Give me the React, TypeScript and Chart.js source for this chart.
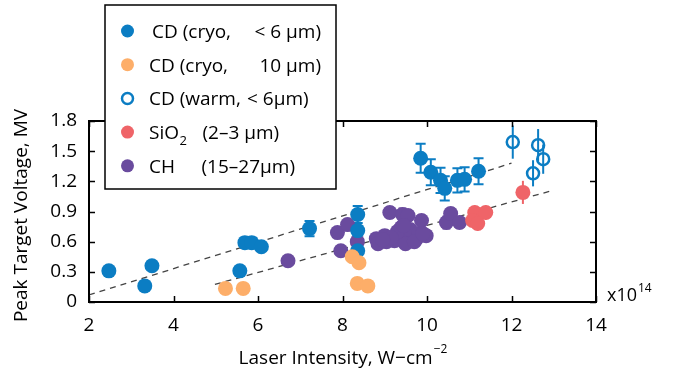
import React, { useEffect, useRef } from "react";
import { Chart, registerables } from "chart.js";
Chart.register(...registerables);

const FONT = "'Open Sans', 'Noto Sans', sans-serif";

const xTicks = [2, 4, 6, 8, 10, 12, 14];
const yTicks = [0, 0.3, 0.6, 0.9, 1.2, 1.5, 1.8];

// CD (cryo, < 6 um)
const cdCryoX = [2.47, 3.32, 3.49, 5.57, 5.69, 5.85, 6.08, 7.22, 8.36, 8.36, 8.36, 9.85, 10.09, 10.32, 10.42, 10.72, 10.89, 11.22];
const cdCryoY = [0.31, 0.16, 0.36, 0.31, 0.59, 0.59, 0.55, 0.73, 0.87, 0.71, 0.51, 1.43, 1.29, 1.21, 1.13, 1.21, 1.22, 1.30];
const cdCryoErr = [0, 0, 0, 0, 0.05, 0.05, 0.04, 0.075, 0.085, 0.04, 0.03, 0.145, 0.13, 0.125, 0.12, 0.12, 0.12, 0.13];

// CD (cryo, 10 um)
const cd10X = [5.23, 5.65, 8.23, 8.39, 8.35, 8.6];
const cd10Y = [0.135, 0.135, 0.45, 0.39, 0.185, 0.16];

// CD (warm, < 6 um)
const cdWarmX = [12.03, 12.63, 12.75, 12.51];
const cdWarmY = [1.59, 1.56, 1.42, 1.28];
const cdWarmErr = [0.165, 0.16, 0.145, 0.13];

// SiO2 (2-3 um)
const sioX = [11.13, 11.39, 11.08, 11.2, 12.27];
const sioY = [0.89, 0.89, 0.81, 0.78, 1.09];
const sioErr = [0.07, 0.07, 0.05, 0.07, 0.115];

// CH (15-27 um)
const chX = [6.71, 7.88, 8.12, 7.96, 8.35, 9.12, 9.42, 9.55, 9.87, 8.8, 9.0, 9.23, 9.39, 9.51, 9.75, 9.98, 9.49, 9.04, 8.84, 10.46, 10.56, 10.77, 9.3, 9.6, 9.8, 9.15, 8.95, 9.7, 9.9, 9.45];
const chY = [0.41, 0.69, 0.77, 0.51, 0.6, 0.89, 0.87, 0.86, 0.81, 0.63, 0.66, 0.61, 0.74, 0.65, 0.63, 0.66, 0.58, 0.6, 0.58, 0.79, 0.88, 0.79, 0.7, 0.72, 0.68, 0.64, 0.62, 0.6, 0.68, 0.76];
const chErr = [0, 0.04, 0.05, 0, 0.05, 0.05, 0.06, 0.05, 0.05, 0.04, 0.04, 0.05, 0.05, 0.04, 0.04, 0.05, 0.04, 0.04, 0.04, 0.06, 0.05, 0.05, 0.04, 0.05, 0.04, 0.04, 0.04, 0.04, 0.04, 0.05];

// Trend lines
const upperLineX = [2, 12];
const upperLineY = [0.07, 1.38];
const lowerLineX = [4.98, 12.98];
const lowerLineY = [0.175, 1.11];

const BLUE = "#0b7dc3";
const ORANGE = "#fdae69";
const RED = "#ef6468";
const PURPLE = "#6a4b9e";

const pts = (xs: number[], ys: number[]) => xs.map((x, i) => ({ x, y: ys[i] }));

// legend rows: [text, x]; negative x = right-aligned at |x|
const legendRows = [
  { color: BLUE, open: false, parts: [["CD (cryo,", 152], ["< 6 \u03bcm)", -321]] },
  { color: ORANGE, open: false, parts: [["CD (cryo,", 149], ["10 \u03bcm)", -321]] },
  { color: BLUE, open: true, parts: [["CD (warm,", 149], ["< 6\u03bcm)", 247]] },
  { color: RED, open: false, parts: [["SiO", 149], ["SUB2", 0], ["(2\u20133 \u03bcm)", 202.5]] },
  { color: PURPLE, open: false, parts: [["CH", 149], ["(15\u201327\u03bcm)", 201.5]] },
];

const framePlugin = {
  id: "frame",
  beforeDatasetsDraw(chart: any) {
    const ctx = chart.ctx;
    const xs = chart.scales.x;
    const ys = chart.scales.y;
    chart.data.datasets.forEach((ds: any) => {
      if (!ds.err) return;
      ctx.save();
      ctx.strokeStyle = ds.errColor;
      ctx.lineWidth = 2;
      ds.data.forEach((p: any, i: number) => {
        const e = ds.err[i];
        if (!e) return;
        const px = xs.getPixelForValue(p.x);
        const y1 = ys.getPixelForValue(p.y + e);
        const y2 = ys.getPixelForValue(p.y - e);
        ctx.beginPath();
        ctx.moveTo(px, y1);
        ctx.lineTo(px, y2);
        if (ds.cap) {
          ctx.moveTo(px - ds.cap, y1);
          ctx.lineTo(px + ds.cap, y1);
          ctx.moveTo(px - ds.cap, y2);
          ctx.lineTo(px + ds.cap, y2);
        }
        ctx.stroke();
      });
      ctx.restore();
    });
  },
  afterDraw(chart: any) {
    const ctx = chart.ctx;
    const xs = chart.scales.x;
    const ys = chart.scales.y;
    const { left, right, top, bottom } = chart.chartArea;
    ctx.save();
    ctx.strokeStyle = "#000";
    ctx.lineWidth = 2;
    ctx.strokeRect(left, top, right - left, bottom - top);
    ctx.lineWidth = 1.5;
    const tl = 6;
    ctx.beginPath();
    xTicks.forEach((v) => {
      const px = Math.round(xs.getPixelForValue(v)) + 0.5;
      ctx.moveTo(px, bottom);
      ctx.lineTo(px, bottom - tl);
      ctx.moveTo(px, top);
      ctx.lineTo(px, top + tl);
    });
    yTicks.forEach((v) => {
      const py = Math.round(ys.getPixelForValue(v)) + 0.5;
      ctx.moveTo(left, py);
      ctx.lineTo(left + tl, py);
      ctx.moveTo(right, py);
      ctx.lineTo(right - tl, py);
    });
    ctx.stroke();

    // x10^14
    ctx.fillStyle = "#000";
    ctx.textBaseline = "alphabetic";
    ctx.textAlign = "left";
    ctx.font = `18px ${FONT}`;
    ctx.fillText("x10", 607, 301);
    const w = ctx.measureText("x10").width;
    ctx.font = `12px ${FONT}`;
    ctx.fillText("14", 607 + w + 1, 292);

    // x title
    ctx.font = `19px ${FONT}`;
    const t1 = "Laser Intensity, W\u2212cm";
    const w1 = ctx.measureText(t1).width;
    ctx.font = `12px ${FONT}`;
    const t2 = "\u22122";
    const w2 = ctx.measureText(t2).width;
    const cx = (left + right) / 2;
    const sx = cx - (w1 + w2) / 2;
    ctx.font = `19px ${FONT}`;
    ctx.fillText(t1, sx, 364);
    ctx.font = `12px ${FONT}`;
    ctx.fillText(t2, sx + w1 + 1, 353);

    // y title
    ctx.save();
    ctx.translate(27, (top + bottom) / 2 + 4);
    ctx.rotate(-Math.PI / 2);
    ctx.font = `19px ${FONT}`;
    ctx.textAlign = "center";
    ctx.fillText("Peak Target Voltage, MV", 0, 0);
    ctx.restore();

    // legend
    const bx = 105, by = 5, bw = 231, bh = 184;
    ctx.fillStyle = "#fff";
    ctx.fillRect(bx, by, bw, bh);
    ctx.strokeStyle = "#000";
    ctx.lineWidth = 1.5;
    ctx.strokeRect(bx, by, bw, bh);
    legendRows.forEach((row, i) => {
      const cy = 31 + i * 33.7;
      ctx.beginPath();
      if (row.open) {
        ctx.arc(127.5, cy, 5.5, 0, Math.PI * 2);
        ctx.strokeStyle = row.color;
        ctx.lineWidth = 2.5;
        ctx.stroke();
      } else {
        ctx.arc(127.5, cy, 6.5, 0, Math.PI * 2);
        ctx.fillStyle = row.color;
        ctx.fill();
      }
      ctx.fillStyle = "#000";
      let cursor = 0;
      row.parts.forEach(([txt, x]: any) => {
        if (txt === "SUB2") {
          ctx.font = `13px ${FONT}`;
          ctx.textAlign = "left";
          ctx.fillText("2", cursor, cy + 13);
          return;
        }
        ctx.font = `19px ${FONT}`;
        if (x < 0) {
          ctx.textAlign = "right";
          ctx.fillText(txt, -x, cy + 7);
        } else {
          ctx.textAlign = "left";
          ctx.fillText(txt, x, cy + 7);
          cursor = x + ctx.measureText(txt).width + 0.5;
        }
      });
    });
    ctx.restore();
  },
};

export default function App() {
  const ref = useRef<HTMLCanvasElement>(null);
  useEffect(() => {
    if (!ref.current) return;
    const dot = { pointRadius: 7.5, pointHoverRadius: 7.5, borderWidth: 0, showLine: false };
    const chart = new Chart(ref.current, {
      type: "scatter",
      data: {
        datasets: [
          { ...dot, label: "CD (cryo, 10 \u03bcm)", data: pts(cd10X, cd10Y), backgroundColor: ORANGE, borderColor: ORANGE } as any,
          { ...dot, label: "CD (cryo, < 6 \u03bcm)", data: pts(cdCryoX, cdCryoY), backgroundColor: BLUE, borderColor: BLUE, err: cdCryoErr, errColor: BLUE, cap: 5 } as any,
          { ...dot, label: "SiO2 (2-3 \u03bcm)", data: pts(sioX, sioY), backgroundColor: RED, borderColor: RED, err: sioErr, errColor: RED, cap: 0 } as any,
          { ...dot, label: "CH (15-27 \u03bcm)", data: pts(chX, chY), backgroundColor: PURPLE, borderColor: PURPLE, err: chErr, errColor: PURPLE, cap: 4 } as any,
          { label: "CD (warm, < 6 \u03bcm)", data: pts(cdWarmX, cdWarmY), pointRadius: 6, pointHoverRadius: 6, borderWidth: 2.5, pointBorderWidth: 2.5, backgroundColor: "rgba(0,0,0,0)", borderColor: BLUE, showLine: false, err: cdWarmErr, errColor: BLUE, cap: 0 } as any,
          { type: "line", label: "upper", data: pts(upperLineX, upperLineY), borderColor: "#444", borderWidth: 1.3, borderDash: [6, 5], pointRadius: 0, fill: false } as any,
          { type: "line", label: "lower", data: pts(lowerLineX, lowerLineY), borderColor: "#444", borderWidth: 1.3, borderDash: [6, 5], pointRadius: 0, fill: false } as any,
        ],
      },
      options: {
        animation: false,
        responsive: true,
        maintainAspectRatio: false,
        events: [],
        layout: { padding: { top: 121, right: 81, left: 0, bottom: 0 } },
        plugins: { legend: { display: false }, tooltip: { enabled: false } },
        scales: {
          x: {
            type: "linear",
            min: 2,
            max: 14,
            afterFit: (s: any) => { s.height = 78; },
            afterBuildTicks: (s: any) => { s.ticks = xTicks.map((v) => ({ value: v })); },
            grid: { display: false, drawTicks: false },
            border: { display: false },
            ticks: { font: { family: FONT, size: 19 }, color: "#000", padding: 12, maxRotation: 0 },
          },
          y: {
            type: "linear",
            min: 0,
            max: 1.8,
            afterFit: (s: any) => { s.width = 89; },
            afterBuildTicks: (s: any) => { s.ticks = yTicks.map((v) => ({ value: v })); },
            grid: { display: false, drawTicks: false },
            border: { display: false },
            ticks: { font: { family: FONT, size: 19 }, color: "#000", padding: 12, callback: (v: any) => String(Number(v)) },
          },
        },
      },
      plugins: [framePlugin],
    });
    return () => chart.destroy();
  }, []);
  return (
    <div style={{ position: "absolute", left: 0, top: 0, width: 677, height: 380 }}>
      <canvas ref={ref} />
    </div>
  );
}
